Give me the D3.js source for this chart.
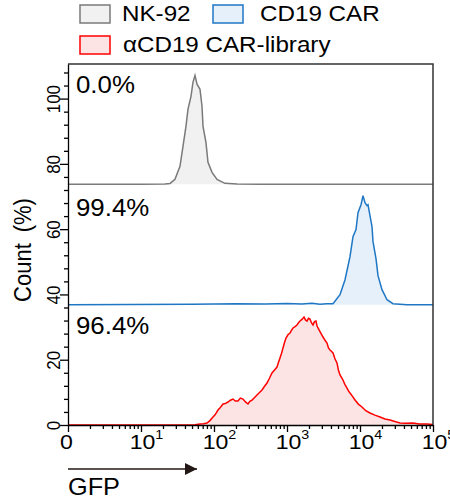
<!DOCTYPE html>
<html lang="en">
<head>
<meta charset="UTF-8">
<title>GFP histograms</title>
<script src="https://d3js.org/d3.v7.min.js"></script>
<style>
  body { margin: 0; background: #fff; }
  svg text { font-family: Arial, "Liberation Sans", sans-serif; fill: #000; }
  .axis path, .axis line { stroke: #000; stroke-width: 1.3px; }
</style>
</head>
<body>
<svg id="chart" width="450" height="499"></svg>
<script>
// ---- data: [GFP intensity, count % of panel] ----
const nk92 = [[1,0],[10,0],[21.3,0.3],[25,0.8],[29.2,4.5],[34.2,16.4],[37.6,34.5],[41.3,52.7],[44,68.2],
  [48.4,80],[51.5,92.7],[54.9,99],[58.5,91],[64.3,86.4],[68.5,71],[70.7,52.7],[77.6,38.2],[82.7,20],
  [94,10.9],[110,4.5],[141,0.9],[207,0.3],[427,0],[100000,0]];

const cd19car = [[1,0],[50,0.3],[200,0.9],[500,0.5],[1000,1],[1600,0.6],[2200,1.2],[2833,0.3],[3500,0.8],
  [4266,0.9],[5321,9.1],[6235,22.7],[7295,43.6],[8017,61.8],[8812,68.2],[9392,83.6],[10325,90.9],
  [10995,99],[11710,92.7],[12470,90],[12870,90.9],[13700,80.9],[14600,70.9],[15070,57.3],[16560,41.8],
  [17650,26.4],[20010,13.6],[23440,4.5],[28330,0.9],[44060,0],[100000,0]];

const carLibrary = [[1,0],[40,0],[55,0.3],[64.3,0.9],[72,1.2],[80.2,1.8],[88,4],[96.9,7.3],[104,9.5],
  [113.4,13.6],[122,16],[132.8,19.1],[143,19.5],[155.5,20.9],[168,22.5],[182,23.6],[196,21.8],[213,21.8],
  [230,24.5],[249.5,23.6],[270,21],[292,19.1],[310,21.5],[331.6,22.7],[360,25],[388,27.3],[420,29.5],
  [454.6,31.8],[490,35],[532,38.2],[575,42.5],[623,47.3],[675,50],[729.5,52.7],[765,57],[801.7,60.9],
  [840,65],[881,70],[925,75],[969,79.1],[1030,82],[1099,83.6],[1150,86],[1208,88.2],[1290,89.5],
  [1371,90.9],[1440,93],[1507,94.5],[1600,96],[1710,98.2],[1790,95.5],[1879,94.5],[1970,97],[2065,96.4],
  [2160,93],[2270,90.9],[2380,94],[2494,94.5],[2580,90],[2660,88.2],[2880,84],[3113,80],[3320,77],
  [3532,74.5],[3700,70],[3881,68.2],[4050,67],[4266,65.5],[4550,60],[4841,56.4],[5060,50],[5321,45.5],
  [5600,43],[5848,40.9],[6200,37],[6637,33.6],[6950,31],[7295,29.1],[7900,26],[8546,22.7],[9500,19],
  [10640,16.4],[12000,13],[13700,10.9],[16000,9],[18790,7.3],[22000,5.5],[25760,4.5],[30000,3.2],
  [35320,1.8],[42000,1.5],[53210,1.8],[65000,0.9],[82770,0.9],[100000,0.5]];

const seriesNames = ["NK-92", "CD19 CAR", "\u03b1CD19 CAR-library"];
const percentLabels = ["0.0%", "99.4%", "96.4%"];
const xTickValues = [1, 10, 100, 1000, 10000, 100000];
const xTickLabels = ["0", "10|1", "10|2", "10|3", "10|4", "10|5"];
const yTickValues = [0, 20, 40, 60, 80, 100];

const svg = d3.select("#chart");
const plotL = 68, plotR = 433, plotT = 64, plotB = 425;
const panelH = (plotB - plotT) / 3;
const sx = 1.1; // the original figure's lettering is a bit wider than Arial

const x = d3.scaleLog().domain([1, 1e5]).range([plotL, plotR]);
const y = d3.scaleLinear().domain([0, 110.6]).range([plotB, plotT]);

// place a text with the horizontal stretch
function label(parent, px, py, size, str, rot) {
  return parent.append("text")
    .attr("transform", `translate(${px},${py}) scale(${sx},1)` + (rot ? ` rotate(${rot})` : ""))
    .attr("font-size", size).text(str);
}

const styles = [
  {data: nk92, stroke: "#7a7a7a", fill: "#f1f1f1"},
  {data: cd19car, stroke: "#1f77c4", fill: "#e6f0fa"},
  {data: carLibrary, stroke: "#ff0000", fill: "#fde4e4"}
];
const pctY = [93, 216, 334];

// histograms, stacked top to bottom
styles.forEach((s, i) => {
  const base = plotT + panelH * (i + 1);
  const py = d3.scaleLinear().domain([0, 100]).range([base, base - 110]);
  const area = d3.area().x(d => x(d[0])).y0(base).y1(d => py(d[1]));
  const line = d3.line().x(d => x(d[0])).y(d => py(d[1]));
  svg.append("path").datum(s.data).attr("d", area).attr("fill", s.fill);
  svg.append("path").datum(s.data).attr("d", line)
    .attr("fill", "none").attr("stroke", s.stroke).attr("stroke-width", 1.5);
  label(svg, 76, pctY[i], 23.5, percentLabels[i]);
});

// frame top / right
svg.append("path").attr("d", `M${plotL},${plotT}H${plotR}V${plotB}`)
  .attr("fill", "none").attr("stroke", "#333").attr("stroke-width", 1.5);

// x axis
const minorX = [];
for (let e = 0; e < 5; e++) for (let k = 2; k <= 9; k++) minorX.push(k * Math.pow(10, e));
svg.append("g").attr("class", "axis").attr("transform", `translate(0,${plotB})`)
  .call(d3.axisBottom(x).tickValues(minorX).tickSize(4).tickFormat(""))
  .call(g => g.select(".domain").remove());
const xAxis = svg.append("g").attr("class", "axis").attr("transform", `translate(0,${plotB})`)
  .call(d3.axisBottom(x).tickValues(xTickValues).tickSize(7).tickSizeOuter(0).tickFormat(() => ""));
xAxis.selectAll(".tick text").remove();
xAxis.selectAll(".tick").each(function(d, i) {
  const parts = xTickLabels[i].split("|");
  const t = label(d3.select(this), parts.length > 1 ? 5 : -2, 24, 21, null)
    .attr("text-anchor", "middle");
  t.append("tspan").text(parts[0]);
  if (parts.length > 1) t.append("tspan").attr("font-size", 13).attr("dy", "-0.8em").text(parts[1]);
});

// y axis
const minorY = d3.range(4, 110, 4).filter(v => v % 20 !== 0);
svg.append("g").attr("class", "axis").attr("transform", `translate(${plotL},0)`)
  .call(d3.axisLeft(y).tickValues(minorY).tickSize(4).tickFormat(""))
  .call(g => g.select(".domain").remove());
const yAxis = svg.append("g").attr("class", "axis").attr("transform", `translate(${plotL},0)`)
  .call(d3.axisLeft(y).tickValues(yTickValues).tickSize(8).tickSizeOuter(0).tickFormat(""));
yAxis.selectAll(".tick text").remove();
yAxis.selectAll(".tick").each(function(d) {
  label(d3.select(this), -8, 0, 17, d3.format("d")(d), -90).attr("text-anchor", "middle");
});

label(svg, 31, 250, 22, "Count\u2002(%)", -90).attr("text-anchor", "middle");

// GFP arrow
svg.append("defs").append("marker").attr("id", "arrow")
  .attr("viewBox", "0 0 10 10").attr("refX", 10).attr("refY", 5)
  .attr("markerWidth", 12).attr("markerHeight", 12).attr("markerUnits", "userSpaceOnUse")
  .attr("orient", "auto")
  .append("path").attr("d", "M0,0L10,5L0,10Z").attr("fill", "#231815");
svg.append("line").attr("x1", plotL).attr("x2", 197).attr("y1", 469).attr("y2", 469)
  .attr("stroke", "#231815").attr("stroke-width", 1.5).attr("marker-end", "url(#arrow)");
label(svg, plotL, 495, 23, "GFP");

// legend
const legendPos = [[80, 5, 122], [213, 5, 260], [80, 36, 123]];
styles.forEach((s, i) => {
  const [bx, by, tx] = legendPos[i];
  svg.append("rect").attr("x", bx).attr("y", by).attr("width", 30).attr("height", 18)
    .attr("fill", s.fill).attr("stroke", s.stroke).attr("stroke-width", 1.5);
  label(svg, tx, by + 16, 22, seriesNames[i]);
});
</script>
</body>
</html>
